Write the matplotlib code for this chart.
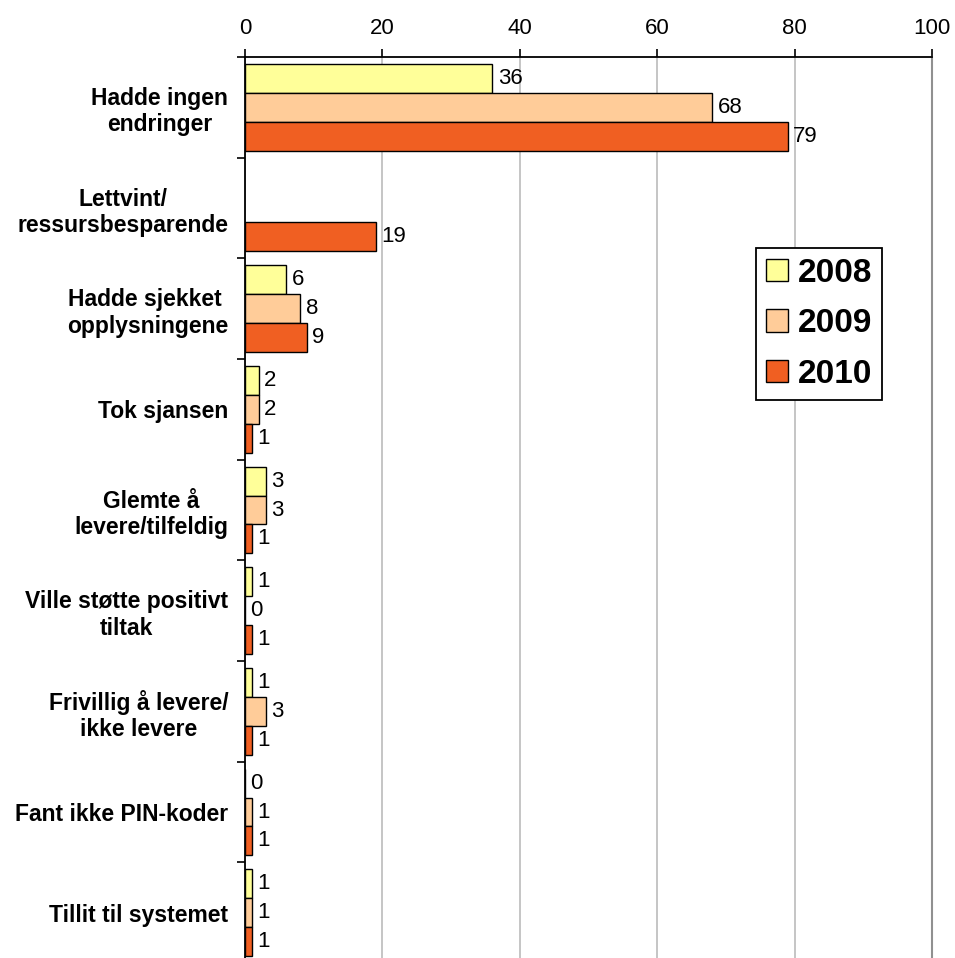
import numpy as np
import matplotlib.pyplot as plt

plt.rcParams['font.family'] = ['Liberation Sans', 'DejaVu Sans']

# survey answers, percent per year
categories = ['Hadde ingen\nendringer', 'Lettvint/\nressursbesparende',
              'Hadde sjekket \nopplysningene', 'Tok sjansen',
              'Glemte å\nlevere/tilfeldig', 'Ville støtte positivt\ntiltak',
              'Frivillig å levere/\nikke levere', 'Fant ikke PIN-koder',
              'Tillit til systemet']
years = ['2008', '2009', '2010']
v2008 = [36, np.nan, 6, 2, 3, 1, 1, 0, 1]
v2009 = [68, np.nan, 8, 2, 3, 0, 3, 1, 1]
v2010 = [79, 19, 9, 1, 1, 1, 1, 1, 1]
colors = ['#FFFF99', '#FFCC99', '#F05F22']

fig = plt.figure(figsize=(9.55, 9.58), dpi=100)
ax = fig.add_axes([245/955, 1 - 963/958, 687/955, (963 - 57)/958])

y = np.arange(len(categories))
h = 0.288
for k, (vals, col, yr) in enumerate(zip([v2008, v2009, v2010], colors, years)):
    vals = np.array(vals, dtype=float)
    bars = ax.barh(y + (k - 1) * h, np.nan_to_num(vals), height=h, color=col,
                   edgecolor='black', linewidth=1, label=yr, zorder=3)
    labels = ['' if np.isnan(v) else '%d' % v for v in vals]
    for b, v in zip(bars, vals):
        if np.isnan(v):
            b.set_visible(False)
    ax.bar_label(bars, labels=labels, padding=4, fontsize=16, zorder=4)

ax.set_xlim(0, 100)
ax.set_ylim(len(categories) - 0.5, -0.5)
ax.xaxis.tick_top()
ax.set_xticks(np.arange(0, 101, 20))
ax.tick_params(axis='x', which='major', labelsize=16, length=6, width=1.2, pad=7)
ax.grid(axis='x', color='#c0c0c0', linewidth=1.3, zorder=0)

ax.set_yticks(y)
ax.set_yticklabels(categories, fontsize=16.5, fontweight='bold', multialignment='center')
ax.tick_params(axis='y', which='major', length=0, pad=12)
ax.set_yticks(np.arange(len(categories) + 1) - 0.5, minor=True)
ax.tick_params(axis='y', which='minor', length=6, width=1.2)

for s in ['top', 'left']:
    ax.spines[s].set_linewidth(1.3)
ax.spines['bottom'].set_visible(False)
ax.spines['right'].set_color('#909090')
ax.spines['right'].set_linewidth(1.5)

leg = ax.legend(loc='upper left', bbox_to_anchor=(756/955, 1 - 248/958),
                bbox_transform=fig.transFigure,
                prop={'weight': 'bold', 'size': 24}, frameon=True, fancybox=False,
                handlelength=0.65, handleheight=0.65, handletextpad=0.3,
                labelspacing=0.58, borderpad=0.3, borderaxespad=0)
leg.get_frame().set_edgecolor('black')
leg.get_frame().set_linewidth(1.3)
leg.get_frame().set_alpha(1)

fig.savefig('out.png', dpi=100)
